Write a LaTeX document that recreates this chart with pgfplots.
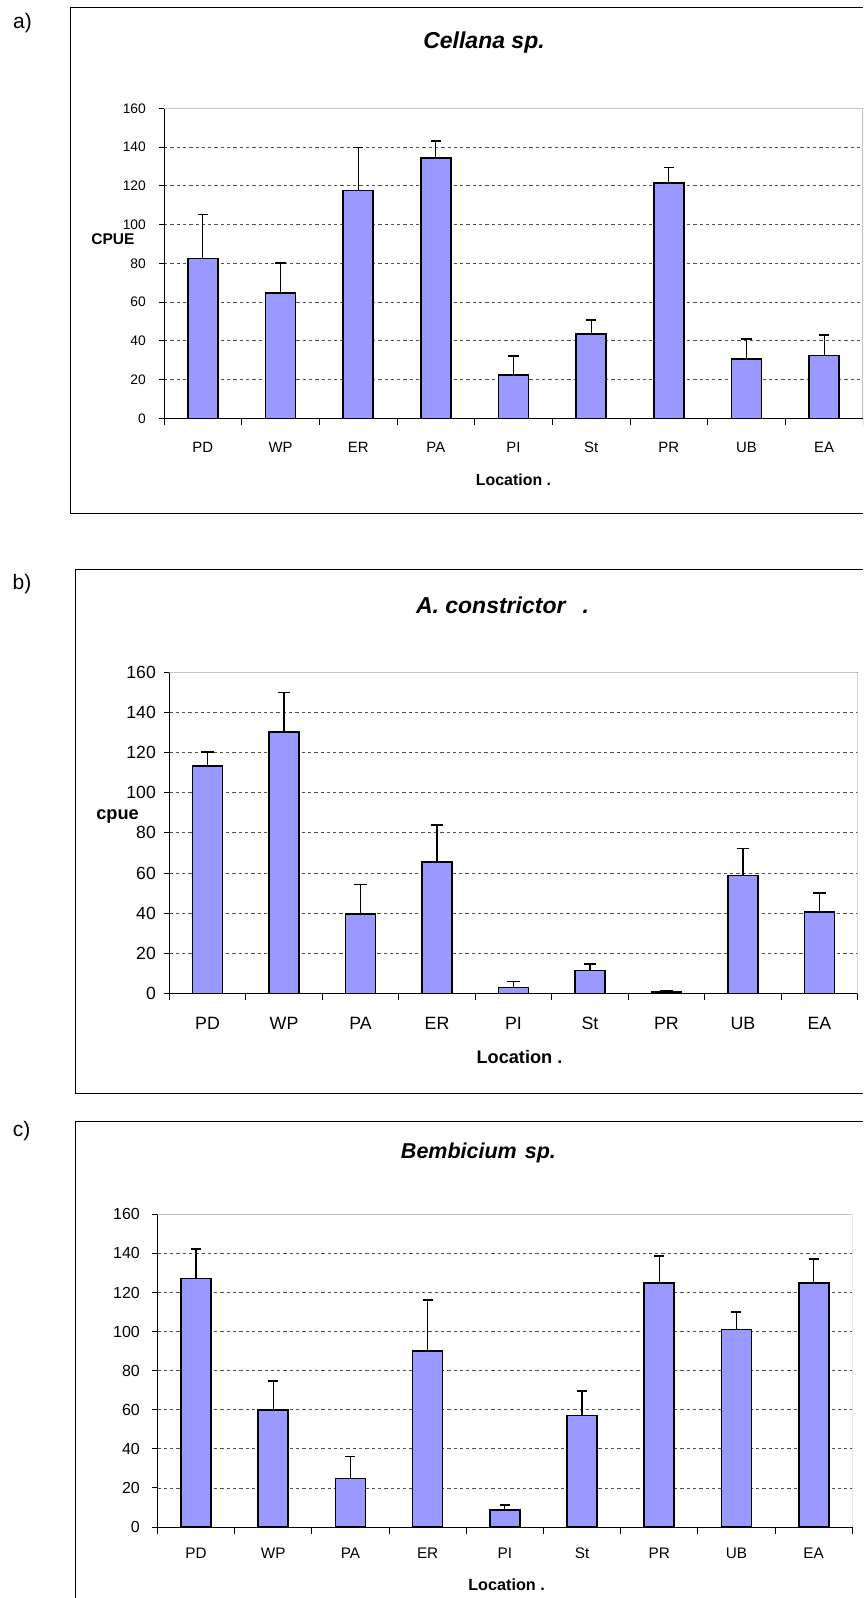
\documentclass[border=0pt]{standalone}
\usepackage{pgfplots}
\pgfplotsset{compat=1.18}
\usepackage{fontspec}
\setmainfont{Liberation Sans}

\definecolor{barblue}{HTML}{9999FF}
\definecolor{framegray}{HTML}{C4C4C4}
\definecolor{gridgray}{HTML}{505050}

\newcommand{\fs}[1]{\fontsize{#1}{#1}\selectfont}

% CPUE by location: mean and standard error
\pgfplotstableread{
i loc v e
0 PD 82.4 22.9
1 WP 64.7 15.5
2 ER 117.5 22.4
3 PA 134.5 8.6
4 PI 22.4 9.8
5 St 43.4 7.4
6 PR 121.5 8.0
7 UB 30.6 10.3
8 EA 32.5 10.5
}\cellana

\pgfplotstableread{
i loc v e
0 PD 113.4 6.8
1 WP 130.3 19.6
2 PA 39.6 14.8
3 ER 65.6 18.3
4 PI 3.0 3.0
5 St 11.6 3.2
6 PR 0.7 0.6
7 UB 58.7 13.5
8 EA 40.5 9.6
}\constrictor

\pgfplotstableread{
i loc v e
0 PD 127.1 15.2
1 WP 59.9 14.8
2 PA 24.9 11.3
3 ER 90.2 26.0
4 PI 8.7 2.6
5 St 57.0 12.6
6 PR 125.0 13.7
7 UB 101.0 9.0
8 EA 125.0 12.1
}\bembicium

\pgfplotsset{
  panel/.style={
    scale only axis, anchor=south west,
    xmin=-0.5, xmax=8.5, ymin=0, ymax=160,
    ytick={0,20,...,160},
    xtick={0,...,8},
    minor xtick={-0.5,0.5,...,8.5},
    axis x line*=bottom, axis y line*=left,
    axis line style={black, line width=1pt},
    tick align=outside,
    major tick length=5pt, minor tick length=6.5pt,
    major x tick style={draw=none},
    minor x tick style={black, line width=0.9pt},
    y tick style={black, line width=0.9pt},
    ymajorgrids,
    major grid style={gridgray, line width=0.8pt, dash pattern=on 3.3pt off 3pt},
    /pgf/number format/assume math mode=true,
    yticklabel style={anchor=east, inner sep=0pt},
    xticklabel style={anchor=base, inner sep=0pt},
    every axis title/.style={anchor=center, inner sep=0pt, font=\bfseries\itshape},
    xlabel style={anchor=center, inner sep=0pt, font=\bfseries},
    ylabel style={rotate=-90, anchor=center, inner sep=0pt, font=\bfseries},
  },
  bars/.style={
    ybar, bar width=30pt, fill=barblue, draw=black, line width=1.6pt,
    error bars/.cd, y dir=plus, y explicit,
    error bar style={line width=1.2pt, black},
    error mark options={rotate=90, mark size=5.3pt, line width=1.3pt, black},
  },
}

\begin{document}
\begin{tikzpicture}
\useasboundingbox (0pt,0pt) rectangle (863pt,-1598pt);
\clip (0pt,0pt) rectangle (863pt,-1598pt);

% outer frames of the three panels
\draw[black, line width=1pt] (863pt,-7.3pt) -- (70.5pt,-7.3pt) -- (70.5pt,-513pt) -- (863pt,-513pt);
\draw[black, line width=1pt] (863pt,-569.3pt) -- (75pt,-569.3pt) -- (75pt,-1093.6pt) -- (863pt,-1093.6pt);
\draw[black, line width=1pt] (863pt,-1121.7pt) -- (75pt,-1121.7pt) -- (75pt,-1598pt);

\node[font=\fs{21}] at (22.5pt,-23.3pt) {a)};
\node[font=\fs{21}] at (22pt,-584pt) {b)};
\node[font=\fs{21}] at (21.5pt,-1131pt) {c)};

% a) Cellana sp.
\begin{axis}[panel,
  at={(164pt,-418.3pt)}, width=699pt, height=310pt,
  xticklabels={PD,WP,ER,PA,PI,St,PR,UB,EA},
  yticklabel style={xshift=-13pt, font=\fs{13.8}},
  xticklabel style={yshift=-28.7pt, font=\fs{14.9}},
  title={\fs{23}Cellana sp.},
  title style={at={(axis description cs:0.4578,1.2135)}},
  xlabel={\fs{15.9}Location .},
  xlabel style={at={(axis description cs:0.5,-0.199)}},
  ylabel={\fs{15.5}CPUE},
  ylabel style={at={(axis description cs:-0.073,0.5784)}},
]
\addplot[bars] table[x=i, y=v, y error=e] {\cellana};
\draw[framegray, line width=1.3pt] (rel axis cs:0,1) -- (rel axis cs:1,1) -- (rel axis cs:1,0);
\end{axis}

% b) A. constrictor
\begin{axis}[panel,
  at={(169.3pt,-993.6pt)}, width=688.4pt, height=321.5pt,
  xticklabels={PD,WP,PA,ER,PI,St,PR,UB,EA},
  yticklabel style={xshift=-8.3pt, font=\fs{17.6}},
  xticklabel style={yshift=-30.5pt, font=\fs{17.8}},
  title={\fs{23}A. constrictor\hspace{17pt}.},
  title style={at={(axis description cs:0.484,1.2087)}},
  xlabel={\fs{18.2}Location .},
  xlabel style={at={(axis description cs:0.5087,-0.1966)}},
  ylabel={\fs{18.2}cpue},
  ylabel style={at={(axis description cs:-0.0752,0.55)}},
]
\addplot[bars, error mark options={rotate=90, mark size=6.3pt, line width=1.3pt, black}] table[x=i, y=v, y error=e] {\constrictor};
\draw[framegray, line width=1.3pt] (rel axis cs:0,1) -- (rel axis cs:1,1) -- (rel axis cs:1,0);
\end{axis}

% c) Bembicium sp.
\begin{axis}[panel,
  at={(157.4pt,-1527pt)}, width=694.9pt, height=312.7pt,
  xticklabels={PD,WP,PA,ER,PI,St,PR,UB,EA},
  yticklabel style={xshift=-12.4pt, font=\fs{16}},
  xticklabel style={yshift=-26.5pt, font=\fs{15.3}},
  title={\fs{21.5}Bembicium\hspace{8pt}sp.},
  title style={at={(axis description cs:0.462,1.196)}},
  xlabel={\fs{16.2}Location .},
  xlabel style={at={(axis description cs:0.5025,-0.1855)}},
]
\addplot[bars, error mark options={rotate=90, mark size=5pt, line width=1.3pt, black}] table[x=i, y=v, y error=e] {\bembicium};
\draw[framegray, line width=1.3pt] (rel axis cs:0,1) -- (rel axis cs:1,1) -- (rel axis cs:1,0);
\end{axis}
\end{tikzpicture}
\end{document}
